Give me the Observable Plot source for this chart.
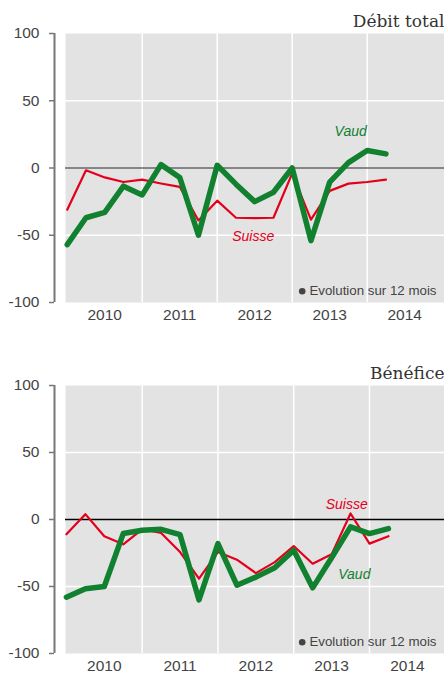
<!DOCTYPE html>
<html><head><meta charset="utf-8">
<script src="https://cdn.jsdelivr.net/npm/d3@7"></script>
<script src="https://cdn.jsdelivr.net/npm/@observablehq/plot@0.6"></script>
<style>
body{margin:0;background:#fff;}
#chart svg{display:block;overflow:visible;}
</style>
</head><body><div id="chart"></div>
<script>
// Quarterly positions (fraction of year)
const quarters = [2010.0, 2010.25, 2010.5, 2010.75, 2011.0, 2011.25, 2011.5, 2011.75, 2012.0, 2012.25, 2012.5, 2012.75, 2013.0, 2013.25, 2013.5, 2013.75, 2014.0, 2014.25];

// Débit total — évolution sur 12 mois (%)
const debitVaud   = [-57, -37, -33, -13.5, -20, 2.5, -7, -50, 2, -12, -25, -18, 0, -54, -10.5, 4, 13, 10.5];
const debitSuisse = [-31, -1.7, -7, -10.4, -8.7, -11.5, -14, -39, -24.3, -37, -37.3, -37, -4, -38.4, -17, -11.6, -10.4, -8.7];

// Bénéfice — évolution sur 12 mois (%)
const beneficeVaud   = [-58, -51.7, -50, -10.5, -8, -7.3, -11.3, -60, -18, -49, -43, -36, -23, -51, -28.5, -5.5, -10.5, -6.8];
const beneficeSuisse = [-11, 4, -12.5, -18.5, -7.3, -10, -24.3, -44.2, -24.3, -30, -40, -31.8, -19.8, -33, -26, 4.5, -18, -12.5];

const yearLabels = [2010, 2011, 2012, 2013, 2014];
const gridYears = [2011, 2012, 2013, 2014];
const yTicks = [-100, -50, 0, 50, 100];
const yGrid = [-50, 50];
const panelTitles = ["Débit total", "Bénéfice"];
const legendText = "Evolution sur 12 mois";
const debitLabels = [{name: "Vaud", x: 2013.78, y: 27}, {name: "Suisse", x: 2012.48, y: -51}];
const beneficeLabels = [{name: "Suisse", x: 2013.70, y: 11}, {name: "Vaud", x: 2013.80, y: -41}];

const colors = {Vaud: "#11802f", Suisse: "#e2001b"};
const sans = "'Liberation Sans', Arial, sans-serif";

function panel({title, vaud, suisse, labels, xDomain, zeroColor, height, marginBottom}) {
  const vaudData = quarters.map((q, i) => ({x: q, y: vaud[i]}));
  const suisseData = quarters.map((q, i) => ({x: q, y: suisse[i]}));
  return Plot.plot({
    width: 444,
    height,
    marginLeft: 65,
    marginRight: 0,
    marginTop: 33,
    marginBottom,
    style: {fontFamily: sans, background: "transparent"},
    x: {domain: xDomain, axis: null},
    y: {domain: [-100, 100], axis: null},
    marks: [
      Plot.frame({fill: "#e3e3e3", stroke: null}),
      Plot.ruleX(gridYears, {stroke: "#fff", strokeWidth: 1.5}),
      Plot.ruleY(yGrid, {stroke: "#fff", strokeWidth: 1.5}),
      Plot.ruleY([0], {stroke: zeroColor, strokeWidth: 1.5}),
      Plot.ruleX([xDomain[0]], {y1: -100, y2: 100, dx: -11, stroke: "#777", strokeWidth: 2}),
      Plot.axisY({ticks: yTicks, label: null, tickSize: 5, tickPadding: 10, dx: -11, stroke: "#777", strokeWidth: 1.5, fill: "#444", fontSize: 15.5, tickFormat: d => String(d)}),
      Plot.axisX({ticks: yearLabels.map(y => y + 0.5), label: null, tickSize: 0, tickPadding: 6, fill: "#444", fontSize: 15.5, tickFormat: d => String(Math.floor(d))}),
      Plot.line(suisseData, {x: "x", y: "y", stroke: colors.Suisse, strokeWidth: 2.2}),
      Plot.line(vaudData, {x: "x", y: "y", stroke: colors.Vaud, strokeWidth: 5.5}),
      Plot.text(labels, {x: "x", y: "y", text: "name", fill: d => colors[d.name], fontSize: 14, fontStyle: "italic"}),
      Plot.dot([legendText], {frameAnchor: "bottom-right", dx: -142.3, dy: -11.3, r: 3.3, fill: "#444", stroke: null}),
      Plot.text([legendText], {frameAnchor: "bottom-right", textAnchor: "end", lineAnchor: "middle", dx: -8, dy: -11.5, fontSize: 13.3, fill: "#444"}),
      Plot.text([title], {frameAnchor: "top-right", textAnchor: "end", lineAnchor: "bottom", dy: -7, fontSize: 17, fill: "#333", fontFamily: "'DejaVu Serif', serif"})
    ]
  });
}

const root = document.getElementById("chart");
root.appendChild(panel({title: panelTitles[0], vaud: debitVaud, suisse: debitSuisse, labels: debitLabels, xDomain: [2009.977, 2015.031], zeroColor: "#666", height: 352, marginBottom: 50}));
root.appendChild(panel({title: panelTitles[1], vaud: beneficeVaud, suisse: beneficeSuisse, labels: beneficeLabels, xDomain: [2009.988, 2014.99], zeroColor: "#000", height: 326, marginBottom: 25}));
</script>
</body></html>
